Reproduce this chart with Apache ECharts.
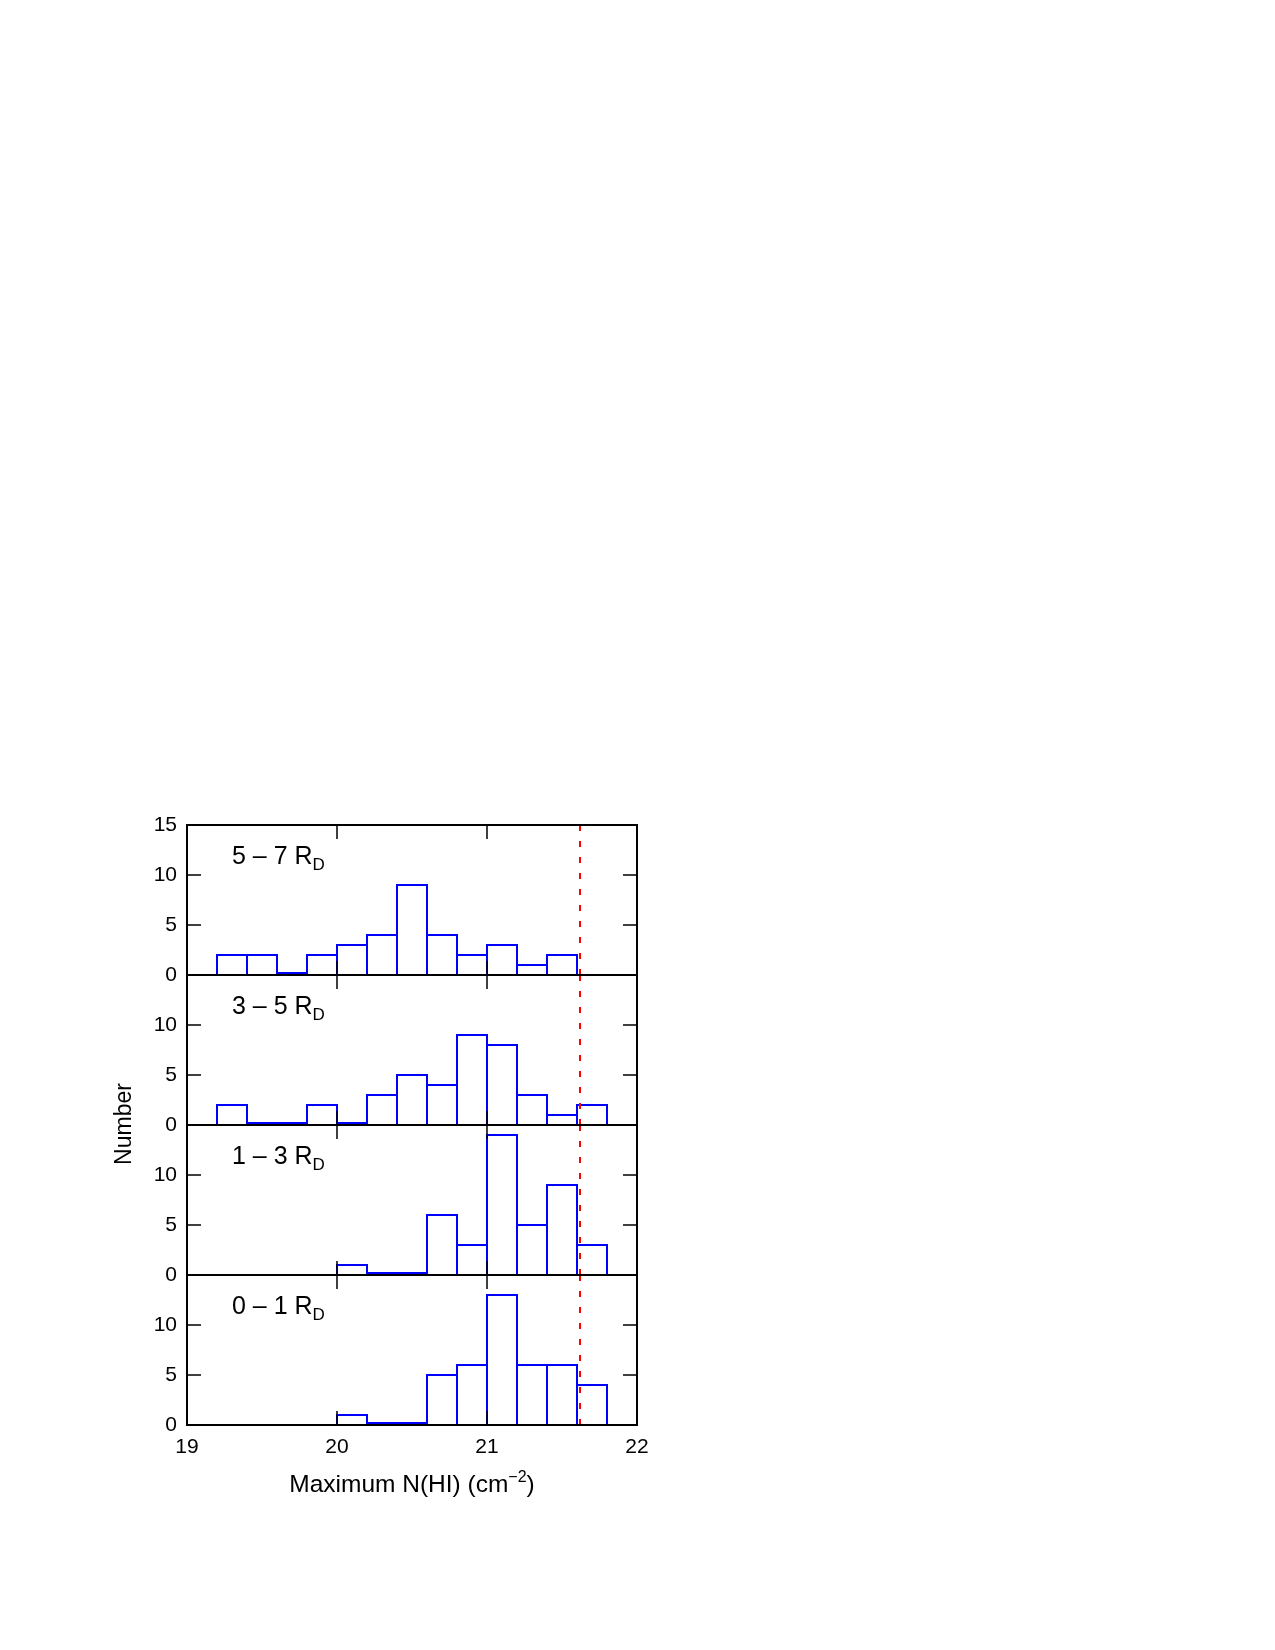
<!DOCTYPE html>
<html>
<head>
<meta charset="utf-8">
<script src="https://cdn.jsdelivr.net/npm/echarts@6/dist/echarts.min.js"></script>
<style>
html,body{margin:0;padding:0;background:#fff;}
#c{width:1275px;height:1650px;}
</style>
</head>
<body>
<div id="c"></div>
<script>
// ---- data ----
const binStarts = [19.2, 19.4, 19.6, 19.8, 20.0, 20.2, 20.4, 20.6, 20.8, 21.0, 21.2, 21.4, 21.6];
const binWidth = 0.2;
const counts57 = [2, 2, 0, 2, 3, 4, 9, 4, 2, 3, 1, 2, null];
const counts35 = [2, 0, 0, 2, 0, 3, 5, 4, 9, 8, 3, 1, 2];
const counts13 = [null, null, null, null, 1, 0, 0, 6, 3, 14, 5, 9, 3];
const counts01 = [null, null, null, null, 1, 0, 0, 5, 6, 13, 6, 6, 4];
const panelLabels = ['5 \u2013 7 R', '3 \u2013 5 R', '1 \u2013 3 R', '0 \u2013 1 R'];
const panelCounts = [counts57, counts35, counts13, counts01];
const limitX = 21.62;
const xTicks = [19, 20, 21, 22];
const yTicks = [0, 5, 10, 15];

// ---- layout ----
const FONT = 'Liberation Sans, Arial, Helvetica, sans-serif';
const L = 187, W = 450, T0 = 825, H = 150;

const chart = echarts.init(document.getElementById('c'), null, {renderer: 'canvas'});

function renderItem(params, api) {
  const x0 = api.value(0), h = api.value(1);
  const p0 = api.coord([x0, 0]);
  const p1 = api.coord([x0 + binWidth, h]);
  let y = p1[1], hh = p0[1] - p1[1];
  if (h === 0) { y = p0[1] - 2; hh = 0; }
  return {
    type: 'rect',
    shape: {x: p0[0], y: y, width: p1[0] - p0[0], height: hh},
    style: {fill: 'none', stroke: '#0000ff', lineWidth: 2}
  };
}

const grids = [], xAxes = [], yAxes = [], series = [], titles = [];
panelCounts.forEach((counts, i) => {
  grids.push({left: L, top: T0 + H * i, width: W, height: H, show: true,
    borderColor: '#000', borderWidth: 2, backgroundColor: 'transparent'});
  const isBottom = i === panelCounts.length - 1;
  const baseX = {
    gridIndex: i, type: 'value', min: xTicks[0], max: xTicks[xTicks.length - 1], interval: 1,
    splitLine: {show: false}, z: 5,
    axisLine: {show: true, onZero: false, lineStyle: {color: '#000', width: 2}},
    axisTick: {show: true, inside: true, length: 14, lineStyle: {color: '#000', width: 1.5}}
  };
  xAxes.push(Object.assign({}, baseX, {
    position: 'bottom',
    axisLabel: {show: isBottom, fontSize: 21, color: '#000', fontFamily: FONT, margin: 12},
    name: isBottom ? '{a|Maximum N(HI) (cm}{b|\u22122}{a|)}' : '',
    nameLocation: 'middle', nameGap: 45,
    nameTextStyle: {rich: {
      a: {fontSize: 24.5, lineHeight: 30, color: '#000', fontFamily: FONT, verticalAlign: 'middle'},
      b: {fontSize: 16, lineHeight: 15, color: '#000', fontFamily: FONT, verticalAlign: 'top'}
    }}
  }));
  xAxes.push(Object.assign({}, baseX, {position: 'top', axisLabel: {show: false}}));
  const baseY = {
    gridIndex: i, type: 'value', min: yTicks[0], max: yTicks[yTicks.length - 1], interval: 5,
    splitLine: {show: false}, z: 5,
    axisLine: {show: true, onZero: false, lineStyle: {color: '#000', width: 2}},
    axisTick: {show: true, inside: true, length: 14, lineStyle: {color: '#000', width: 1.5}}
  };
  yAxes.push(Object.assign({}, baseY, {
    position: 'left',
    axisLabel: {show: true, fontSize: 21, color: '#000', fontFamily: FONT, margin: 10,
      showMaxLabel: i === 0}
  }));
  yAxes.push(Object.assign({}, baseY, {position: 'right', axisLabel: {show: false}}));

  const data = [];
  binStarts.forEach((b, k) => { if (counts[k] !== null) data.push([b, counts[k]]); });
  series.push({
    type: 'custom', xAxisIndex: 2 * i, yAxisIndex: 2 * i, renderItem: renderItem,
    data: data, clip: false, silent: true, z: 3
  });
  series.push({
    type: 'line', xAxisIndex: 2 * i, yAxisIndex: 2 * i, symbol: 'none', silent: true, z: 4,
    data: [[limitX, yTicks[0]], [limitX, yTicks[yTicks.length - 1]]],
    lineStyle: {color: '#ff0000', width: 2, type: [6, 10]}
  });
  titles.push({
    text: '{m|' + panelLabels[i] + '}{s|D}', left: 232, top: 840 + H * i, padding: 0,
    textStyle: {fontWeight: 'normal', rich: {
      m: {fontSize: 25, lineHeight: 34, color: '#000', fontFamily: FONT, fontWeight: 'normal', verticalAlign: 'middle'},
      s: {fontSize: 17, lineHeight: 16, color: '#000', fontFamily: FONT, fontWeight: 'normal', verticalAlign: 'bottom'}
    }}
  });
});

chart.setOption({
  animation: false,
  backgroundColor: '#fff',
  title: titles,
  grid: grids,
  xAxis: xAxes,
  yAxis: yAxes,
  series: series,
  graphic: [{
    type: 'text', x: 125, y: 1124, rotation: Math.PI / 2,
    style: {text: 'Number', fontSize: 23, fill: '#000', fontFamily: FONT, align: 'center', verticalAlign: 'middle'}
  }]
});
</script>
</body>
</html>
